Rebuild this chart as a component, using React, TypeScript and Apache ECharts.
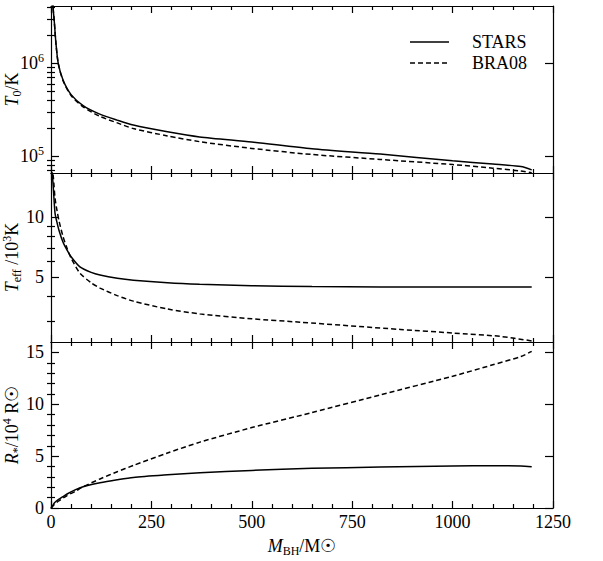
import { useEffect, useRef } from 'react';
import * as echarts from 'echarts';

const FONT = 'Liberation Serif';

// ---- data (M_BH in solar masses) ----
const M_T0 = [4, 6, 8, 12, 18, 30, 50, 80, 120, 165, 205, 290, 370, 500, 650, 820, 1000, 1100, 1170, 1197];
const T0_STARS = [4.8e6, 3.6e6, 2.9e6, 1.7e6, 1.0e6, 6.6e5, 4.6e5, 3.5e5, 2.85e5, 2.44e5, 2.16e5, 1.83e5, 1.61e5, 1.42e5, 1.2e5, 1.05e5, 8.9e4, 8.2e4, 7.7e4, 7.1e4];
const T0_BRA08 = [4.8e6, 3.6e6, 2.9e6, 1.7e6, 1.0e6, 6.5e5, 4.5e5, 3.4e5, 2.7e5, 2.28e5, 1.98e5, 1.65e5, 1.43e5, 1.21e5, 1.04e5, 9.2e4, 8.1e4, 7.4e4, 6.9e4, 6.6e4];

// Teff in 10^3 K
const M_TEFF_STARS = [3, 6, 10, 14, 20, 30, 40, 50, 72, 100, 122, 165, 205, 290, 370, 500, 650, 820, 1000, 1100, 1197];
const TEFF_STARS = [17, 13.8, 10.5, 9.6, 8.6, 7.5, 6.85, 6.35, 5.65, 5.3, 5.14, 4.95, 4.84, 4.7, 4.62, 4.54, 4.5, 4.48, 4.47, 4.47, 4.47];
const M_TEFF_BRA08 = [3, 6, 10, 15, 20, 30, 40, 50, 72, 100, 122, 165, 205, 290, 370, 500, 620, 870, 1000, 1118, 1197];
const TEFF_BRA08 = [18, 15.8, 12.5, 10.8, 9.6, 8.0, 7.0, 6.25, 5.25, 4.7, 4.42, 4.05, 3.8, 3.47, 3.28, 3.1, 2.98, 2.74, 2.63, 2.53, 2.4];

// R* in 10^4 R_sun
const M_R = [0, 3, 6, 10, 18, 30, 40, 60, 80, 122, 165, 205, 290, 371, 500, 650, 820, 1000, 1100, 1170, 1197];
const R_STARS = [0, 0.15, 0.35, 0.55, 0.8, 1.1, 1.35, 1.75, 2.05, 2.43, 2.72, 2.95, 3.2, 3.4, 3.62, 3.82, 3.95, 4.05, 4.08, 4.06, 3.98];
const R_BRA08 = [0, 0.1, 0.25, 0.4, 0.65, 0.95, 1.2, 1.6, 2.05, 2.8, 3.5, 4.1, 5.3, 6.35, 7.75, 9.2, 10.9, 12.7, 13.8, 14.6, 15.1];

// axis ranges / ticks
const X_RANGE = [0, 1250];
const T0_RANGE = [6.57e4, 4.15e6];
const T0_MAJOR = [1e5, 1e6];
const T0_MINOR = [7e4, 8e4, 9e4, 2e5, 3e5, 4e5, 5e5, 6e5, 7e5, 8e5, 9e5, 2e6, 3e6, 4e6];
const TEFF_RANGE = [2.37, 16.7];
const TEFF_MAJOR = [5, 10];
const TEFF_MINOR = [3, 4, 6, 7, 8, 9];
const R_RANGE = [0, 16];
const R_MAJOR = [0, 5, 10, 15];
const R_MINOR = [1, 2, 3, 4, 6, 7, 8, 9, 11, 12, 13, 14];
const LEGEND_NAMES = ['STARS', 'BRA08'];

const LS = { color: '#000', width: 1.2 };
const FS = 18;

const base = { fontFamily: FONT, fontSize: FS, color: '#000', lineHeight: 22 };
const RICH = {
  i: { ...base, fontStyle: 'italic' },
  r: { ...base },
  sub: { fontFamily: FONT, fontSize: 12, color: '#000', lineHeight: 12, verticalAlign: 'bottom' },
  sup: { fontFamily: FONT, fontSize: 12, color: '#000', lineHeight: 12, verticalAlign: 'top' },
};

export default function App() {
  const ref = useRef<HTMLDivElement>(null);
  useEffect(() => {
    if (!ref.current) return;
    const chart = echarts.init(ref.current, null, { renderer: 'svg' });
    const lg = Math.log10;

    const grids = [
      { left: 51, top: 6, width: 502, height: 167, outerBoundsMode: 'none' },
      { left: 51, top: 173, width: 502, height: 169, outerBoundsMode: 'none' },
      { left: 51, top: 342, width: 502, height: 166, outerBoundsMode: 'none' },
    ];

    const xAxis: any[] = [];
    for (let g = 0; g < 3; g++) {
      for (const pos of ['bottom', 'top']) {
        const labelled = g === 2 && pos === 'bottom';
        xAxis.push({
          gridIndex: g,
          type: 'value',
          position: pos,
          min: X_RANGE[0],
          max: X_RANGE[1],
          interval: 250,
          axisLine: { show: true, onZero: false, lineStyle: LS },
          axisTick: { show: true, inside: true, length: 7, lineStyle: LS },
          minorTick: { show: true, splitNumber: 5, length: 4, lineStyle: LS },
          splitLine: { show: false },
          axisLabel: {
            show: labelled,
            formatter: (v: number) => String(v),
            fontFamily: FONT,
            fontSize: FS,
            color: '#000',
            margin: 5,
          },
          name: labelled ? '{i|M}{sub|BH}{r|/M☉}' : '',
          nameLocation: 'middle',
          nameGap: 27,
          nameMoveOverlap: false,
          nameTextStyle: { rich: RICH },
        });
      }
    }

    const yAxis: any[] = [];
    const addY = (
      g: number,
      min: number,
      max: number,
      major: number[],
      minor: number[],
      fmt: (v: number) => string,
      name: string,
      labelRich: any
    ) => {
      const start = yAxis.length;
      for (const pos of ['left', 'right']) {
        yAxis.push({
          gridIndex: g,
          type: 'value',
          position: pos,
          min,
          max,
          axisLine: { show: true, onZero: false, lineStyle: LS },
          axisTick: { show: true, inside: true, length: 8, lineStyle: LS, customValues: major },
          splitLine: { show: false },
          axisLabel: {
            show: pos === 'left',
            customValues: major,
            formatter: fmt,
            fontFamily: FONT,
            fontSize: FS,
            color: '#000',
            margin: 7,
            rich: labelRich,
          },
          name: pos === 'left' ? name : '',
          nameLocation: 'middle',
          nameRotate: 90,
          nameGap: 28,
          nameMoveOverlap: false,
          nameTextStyle: { rich: RICH },
        });
        yAxis.push({
          gridIndex: g,
          type: 'value',
          position: pos,
          min,
          max,
          axisLine: { show: false },
          axisTick: { show: true, inside: true, length: 4, lineStyle: LS, customValues: minor },
          splitLine: { show: false },
          axisLabel: { show: false },
        });
      }
      return start;
    };

    const powRich = {
      b: { fontFamily: FONT, fontSize: FS, color: '#000', lineHeight: 22 },
      s: { fontFamily: FONT, fontSize: 12, color: '#000', lineHeight: 12, verticalAlign: 'top' },
    };

    const yT0 = addY(
      0,
      lg(T0_RANGE[0]),
      lg(T0_RANGE[1]),
      T0_MAJOR.map(lg),
      T0_MINOR.map(lg),
      (v) => `{b|10}{s|${Math.round(v)}}`,
      '{i|T}{sub|0}{r|/K}',
      powRich
    );
    const yTeff = addY(
      1,
      lg(TEFF_RANGE[0]),
      lg(TEFF_RANGE[1]),
      TEFF_MAJOR.map(lg),
      TEFF_MINOR.map(lg),
      (v) => String(Math.round(Math.pow(10, v))),
      '{i|T}{sub|eff}{r| /10}{sup|3}{r|K}',
      undefined
    );
    const yR = addY(
      2,
      R_RANGE[0],
      R_RANGE[1],
      R_MAJOR,
      R_MINOR,
      (v) => String(Math.round(v)),
      '{i|R}{sub|*}{r|/10}{sup|4}{r| R☉}',
      undefined
    );

    const line = (name: string, xi: number, yi: number, xs: number[], ys: number[], logY: boolean) => ({
      type: 'line',
      name,
      xAxisIndex: xi,
      yAxisIndex: yi,
      data: xs.map((x, k) => [x, logY ? lg(ys[k]) : ys[k]]),
      symbol: 'none',
      smooth: 0.25,
      clip: true,
      lineStyle: {
        color: '#000',
        width: 1.5,
        type: name === 'BRA08' ? [5, 3] : 'solid',
      },
      itemStyle: { color: '#000' },
    });

    const legendGraphic: any[] = [];
    LEGEND_NAMES.forEach((n, k) => {
      const y = 42 + k * 21;
      legendGraphic.push({
        type: 'line',
        shape: { x1: 410, y1: y, x2: 449, y2: y },
        style: { stroke: '#000', lineWidth: 1.5, lineDash: k === 1 ? [5, 3] : null },
      });
      legendGraphic.push({
        type: 'text',
        x: 472,
        y,
        style: {
          text: n,
          fontFamily: FONT,
          fontSize: FS,
          fill: '#000',
          verticalAlign: 'middle',
          align: 'left',
        },
      });
    });

    chart.setOption({
      animation: false,
      backgroundColor: '#fff',
      grid: grids,
      xAxis,
      yAxis,
      graphic: legendGraphic,
      series: [
        line('STARS', 0, yT0, M_T0, T0_STARS, true),
        line('BRA08', 0, yT0, M_T0, T0_BRA08, true),
        line('STARS', 2, yTeff, M_TEFF_STARS, TEFF_STARS, true),
        line('BRA08', 2, yTeff, M_TEFF_BRA08, TEFF_BRA08, true),
        line('STARS', 4, yR, M_R, R_STARS, false),
        line('BRA08', 4, yR, M_R, R_BRA08, false),
      ],
    });
    return () => chart.dispose();
  }, []);
  return (
    <div
      ref={ref}
      style={{ position: 'absolute', left: 0, top: 0, width: 603, height: 561, background: '#fff' }}
    />
  );
}
